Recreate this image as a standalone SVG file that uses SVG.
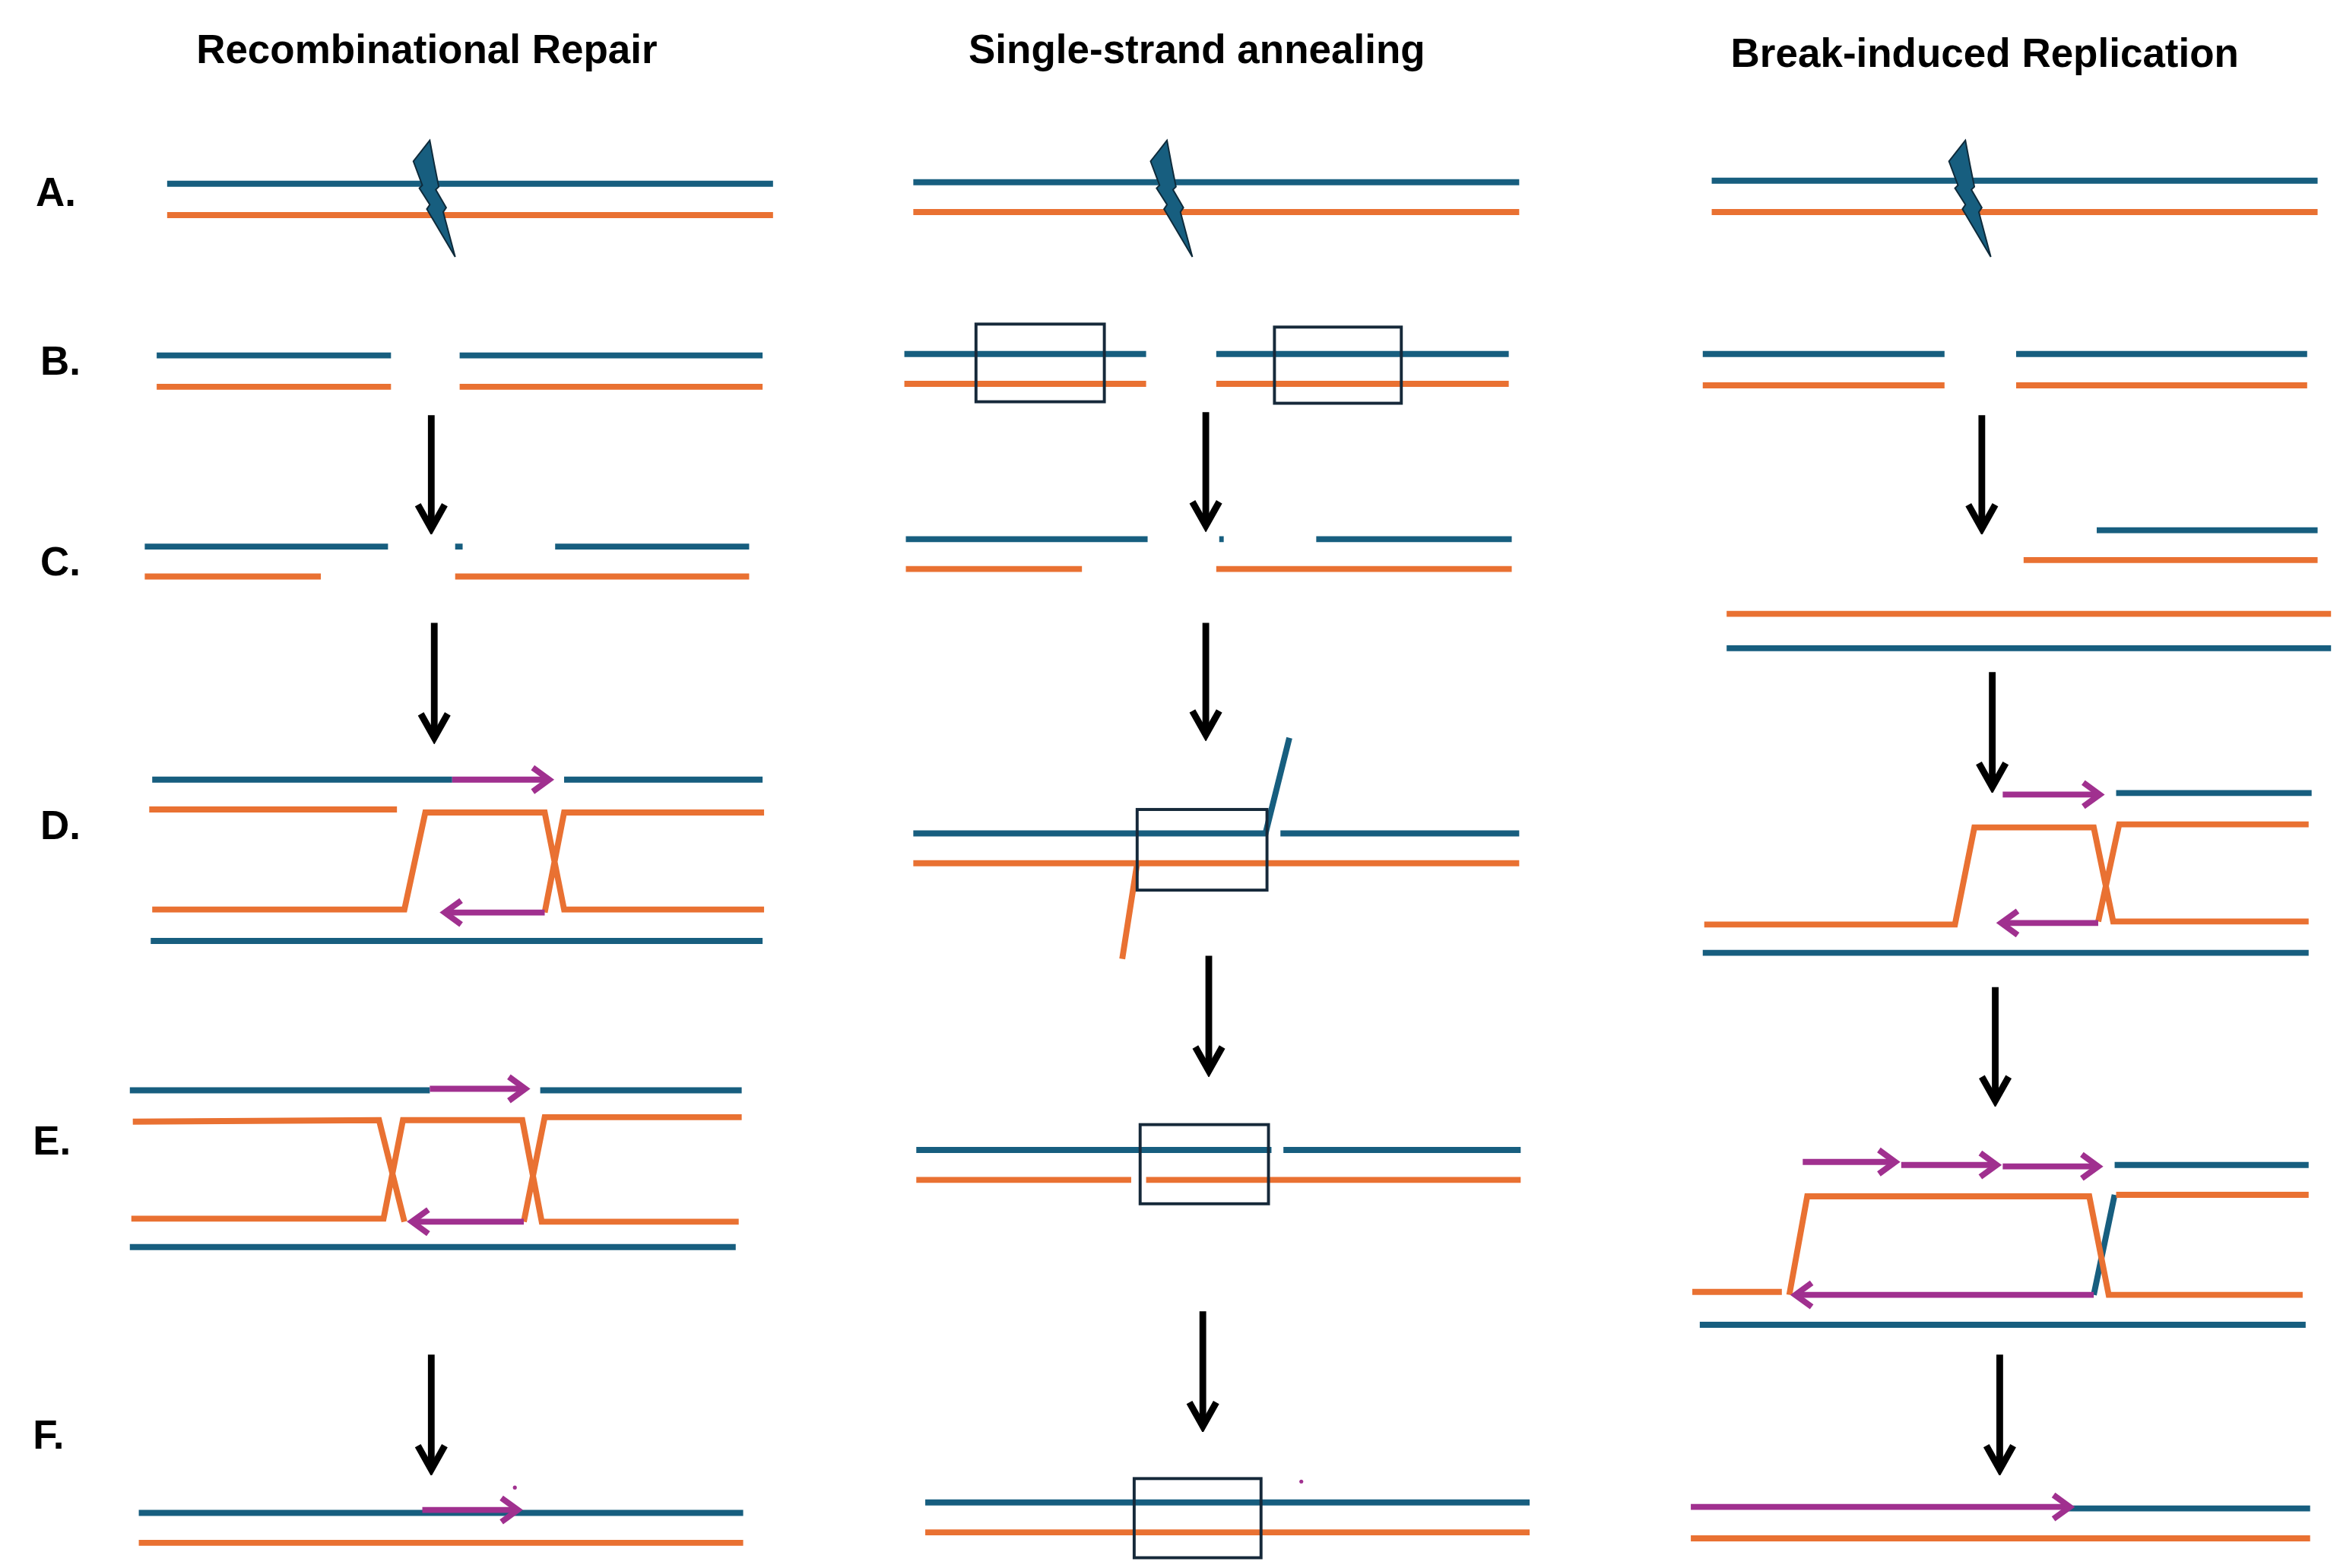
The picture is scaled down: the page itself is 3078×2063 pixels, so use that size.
<svg xmlns="http://www.w3.org/2000/svg" width="3078" height="2063" viewBox="0 0 3078 2063">
<style>
.b{stroke:#175e7f;stroke-width:4;fill:none}
.o{stroke:#e97132;stroke-width:4;fill:none;stroke-linejoin:miter}
.p{stroke:#a0308f;stroke-width:4;fill:none;marker-end:url(#ph)}
.k{stroke:#000;stroke-width:4.5;fill:none;marker-end:url(#kh)}
.bx{stroke:#16293a;stroke-width:2;fill:none}
.t{font-family:"Liberation Sans",Arial,sans-serif;font-weight:bold;font-size:27px;fill:#000;text-anchor:middle}
.l{font-family:"Liberation Sans",Arial,sans-serif;font-weight:bold;font-size:27px;fill:#000}
.bolt{fill:#175e7f;stroke:#0e2a3a;stroke-width:1}
</style>
<defs>
<marker id="ph" markerUnits="userSpaceOnUse" markerWidth="20" markerHeight="20" refX="14" refY="10" orient="auto"><path d="M3,2 L14,10 L3,18" fill="none" stroke="#a0308f" stroke-width="4"/></marker>
<marker id="kh" markerUnits="userSpaceOnUse" markerWidth="24" markerHeight="24" refX="20" refY="12" orient="auto"><path d="M4,3 L20,12 L4,21" fill="none" stroke="#000" stroke-width="4.5"/></marker>
<polygon id="bolt" class="bolt" points="0,0 -11,14 -5,30 -7,32 0,43 -2,46 17,78 9,48 11,45 4,33 6,31 3,16"/>
</defs>
<rect width="3078" height="2063" fill="#fff"/>
<g transform="scale(1.963,1.965)">
<g id="titles">
<text class="t" x="286" y="42">Recombinational Repair</text>
<text class="t" x="802" y="42">Single-strand annealing</text>
<text class="t" x="1330" y="45">Break-induced Replication</text>
</g>
<g id="labels">
<text class="l" x="24" y="138">A.</text>
<text class="l" x="27" y="251">B.</text>
<text class="l" x="27" y="385">C.</text>
<text class="l" x="27" y="562">D.</text>
<text class="l" x="22" y="773">E.</text>
<text class="l" x="22" y="970">F.</text>
</g>
<g id="col1">
<g id="c1A"><path class="b" d="M112,123H518"/><path class="o" d="M112,144H518"/><use href="#bolt" x="288" y="94"/></g>
<g id="c1B"><path class="b" d="M105,238H262M308,238H511"/><path class="o" d="M105,259H262M308,259H511"/></g>
<g id="c1C"><path class="b" d="M97,366H260M305,366H310M372,366H502"/><path class="o" d="M97,386H215M305,386H502"/></g>
<g id="c1D"><path class="b" d="M102,522H303M378,522H511M101,630H511"/><path class="o" d="M100,542H266M102,609H271L285,544H365L378,609H512M365,611L378,544H512"/><path class="p" d="M303,522H368"/><path class="p" d="M365,611H298"/></g>
<g id="c1E"><path class="b" d="M87,730H288M362,730H497M87,835H493"/><path class="o" d="M89,751L254,750L271,818M88,816H257L270,750H350L363,818H495M351,818L365,748H497"/><path class="p" d="M288,729H352"/><path class="p" d="M351,818H276"/></g>
<g id="c1F"><path class="b" d="M93,1013H498"/><path class="o" d="M93,1033H498"/><path class="p" d="M283,1011H347"/><circle cx="345" cy="996" r="1.3" fill="#a0308f"/></g>
</g>
<g id="col2">
<g id="c2A"><path class="b" d="M612,122H1018"/><path class="o" d="M612,142H1018"/><use href="#bolt" x="782" y="94"/></g>
<g id="c2B"><path class="b" d="M606,237H768M815,237H1011"/><path class="o" d="M606,257H768M815,257H1011"/><rect class="bx" x="654" y="217" width="86" height="52"/><rect class="bx" x="854" y="219" width="85" height="51"/></g>
<g id="c2C"><path class="b" d="M607,361H769M817,361H820M882,361H1013"/><path class="o" d="M607,381H725M815,381H1013"/></g>
<g id="c2D"><path class="b" d="M612,558H848L864,494M858,558H1018"/><path class="o" d="M752,642L762,578M612,578H1018"/><rect class="bx" x="762" y="542" width="87" height="54"/></g>
<g id="c2E"><path class="b" d="M614,770H852M860,770H1019"/><path class="o" d="M614,790H758M768,790H1019"/><rect class="bx" x="764" y="753" width="86" height="53"/></g>
<g id="c2F"><path class="b" d="M620,1006H1025"/><path class="o" d="M620,1026H1025"/><rect class="bx" x="760" y="990" width="85" height="53"/><circle cx="872" cy="992" r="1.3" fill="#a0308f"/></g>
</g>
<g id="col3">
<g id="c3A"><path class="b" d="M1147,121H1553"/><path class="o" d="M1147,142H1553"/><use href="#bolt" x="1317" y="94"/></g>
<g id="c3B"><path class="b" d="M1141,237H1303M1351,237H1546"/><path class="o" d="M1141,258H1303M1351,258H1546"/></g>
<g id="c3C"><path class="b" d="M1405,355H1553M1157,434H1562"/><path class="o" d="M1356,375H1553M1157,411H1562"/></g>
<g id="c3D"><path class="b" d="M1418,531H1549M1141,638H1547"/><path class="o" d="M1142,619H1310L1323,554H1403L1416,617H1547M1406,617L1420,552H1547"/><path class="p" d="M1342,532H1407"/><path class="p" d="M1406,618H1341"/></g>
<g id="c3E"><path class="b" d="M1417,780H1547M1403,867L1417,800M1139,887H1545"/><path class="o" d="M1134,865H1194M1199,867L1211,801H1400L1413,867H1543M1418,800H1547"/><path class="p" d="M1208,778H1270"/><path class="p" d="M1274,780H1338"/><path class="p" d="M1342,781H1406"/><path class="p" d="M1403,867H1203"/></g>
<g id="c3F"><path class="b" d="M1385,1010H1548"/><path class="o" d="M1133,1030H1548"/><path class="p" d="M1133,1009H1387"/></g>
</g>
<g id="connectors">
<path class="k" d="M289,278V354"/>
<path class="k" d="M291,417V494"/>
<path class="k" d="M289,907V984"/>
<path class="k" d="M808,276V352"/>
<path class="k" d="M808,417V492"/>
<path class="k" d="M810,640V717"/>
<path class="k" d="M806,878V955"/>
<path class="k" d="M1328,278V354"/>
<path class="k" d="M1335,450V527"/>
<path class="k" d="M1337,661V737"/>
<path class="k" d="M1340,907V984"/>
</g>
</g>
</svg>
